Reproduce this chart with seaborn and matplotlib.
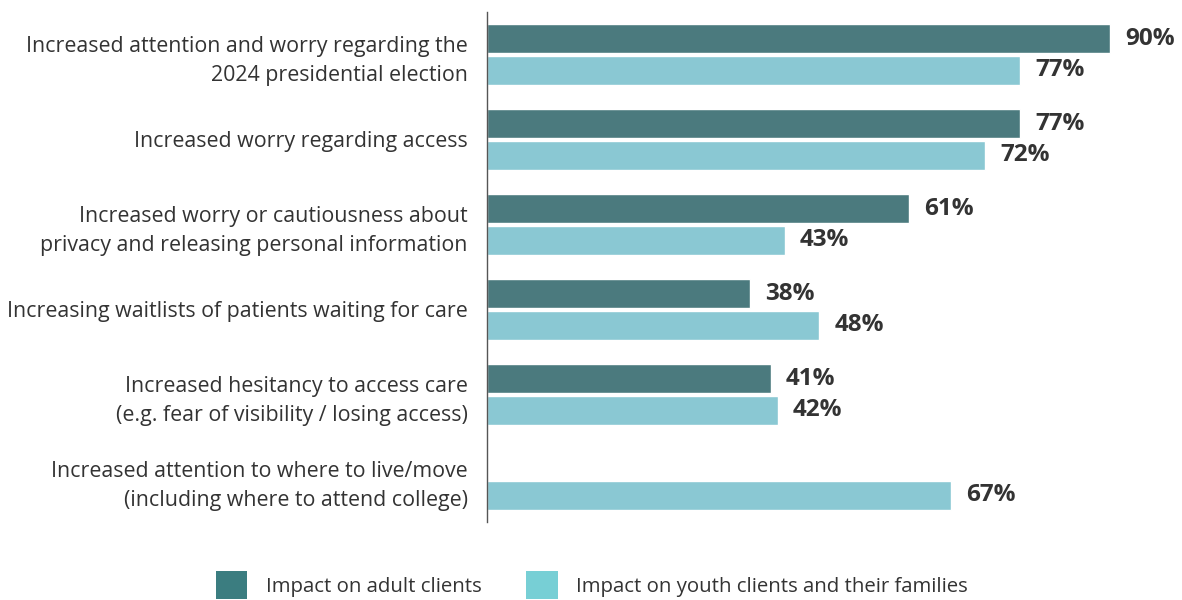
import matplotlib
matplotlib.use("Agg")
import matplotlib.pyplot as plt
from matplotlib.patches import Patch
import seaborn as sns
import pandas as pd

categories = [
    "Increased attention and worry regarding the\n2024 presidential election",
    "Increased worry regarding access",
    "Increased worry or cautiousness about\nprivacy and releasing personal information",
    "Increasing waitlists of patients waiting for care",
    "Increased hesitancy to access care\n(e.g. fear of visibility / losing access)",
    "Increased attention to where to live/move\n(including where to attend college)",
]
adult_values = [90, 77, 61, 38, 41, None]
youth_values = [77, 72, 43, 48, 42, 67]
series_names = ["Impact on adult clients", "Impact on youth clients and their families"]

bar_colors = ["#4b7a7e", "#8ac8d3"]
legend_colors = ["#3b7d80", "#77cfd5"]
text_color = "#333333"

rows = []
for cat, a, y in zip(categories, adult_values, youth_values):
    if a is not None:
        rows.append({"category": cat, "series": series_names[0], "value": a})
    if y is not None:
        rows.append({"category": cat, "series": series_names[1], "value": y})
df = pd.DataFrame(rows)

sns.set_theme(style="white")
plt.rcParams["font.family"] = ["Open Sans", "DejaVu Sans"]

fig = plt.figure(figsize=(11.82, 6), dpi=100)
ax = fig.add_axes([487 / 1182, 78 / 600, 692 / 1182, 510 / 600])

sns.barplot(
    data=df, x="value", y="category", hue="series",
    order=categories, hue_order=series_names,
    palette=bar_colors, orient="h", width=0.75, gap=0.09,
    saturation=1, legend=False, ax=ax,
)

for container in ax.containers:
    ax.bar_label(container, fmt="%d%%", padding=11, fontsize=17.5,
                 fontweight="bold", color=text_color)

ax.set_xlim(0, 100)
ax.set_ylim(5.5, -0.5)
ax.set_xlabel("")
ax.set_ylabel("")
ax.set_xticks([])
ax.tick_params(axis="y", length=0, pad=14, labelsize=15.4, labelcolor=text_color)
for lbl in ax.get_yticklabels():
    lbl.set_linespacing(1.48)
for side in ["top", "right", "bottom"]:
    ax.spines[side].set_visible(False)
ax.spines["left"].set_color("#555555")
ax.spines["left"].set_linewidth(1)

handles = [Patch(facecolor=c, edgecolor="none") for c in legend_colors]
fig.legend(
    handles, series_names, loc="center", bbox_to_anchor=(592 / 1182, 1 - 585 / 600),
    ncol=2, frameon=False, fontsize=14.7, labelcolor=text_color,
    handlelength=1.55, handleheight=1.8, handletextpad=0.9, columnspacing=2.2,
)

fig.savefig("out.png", dpi=100)
